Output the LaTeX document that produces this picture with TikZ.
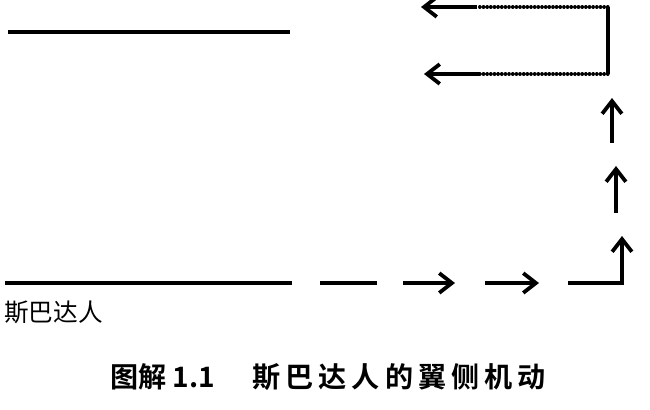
\documentclass[tikz,border=0pt]{standalone}
\usepackage{fontspec}
\newfontfamily\cjk{Noto Sans CJK SC}
\newfontfamily\cjkbold{Noto Sans CJK SC Bold}
\newfontfamily\cjkboldwide{Noto Sans CJK SC Bold}[LetterSpace=18]
\usetikzlibrary{arrows.meta, positioning}

\begin{document}
\begin{tikzpicture}[x=0.025cm,y=-0.025cm,>={Straight Barb[length=9pt,width=14pt,line width=2.7pt]},
        line/.style={line width=2.3pt},
        move/.style={line width=2.3pt,->},
        dotmove/.style={line width=2.3pt,line cap=round,dash pattern=on 0.3pt off 2.3pt}]
    \useasboundingbox (0,0) rectangle (650,409);

      % the two lines
      \coordinate (top_l) at (8,32);
      \coordinate (top_r) at (290,32);
      \coordinate (bot_l) at (5,283);
      \coordinate (bot_r) at (292,283);
      \draw[line] (top_l) -- (top_r);
      \draw[line] (bot_l) -- (bot_r);

      % the wing moving forward
      \coordinate (d_1) at (320,283);
      \coordinate (d_2) at (377,283);
      \coordinate (d_3) at (403,283);
      \coordinate (d_4) at (455,283);
      \coordinate (d_5) at (485,283);
      \coordinate (d_6) at (539,283);
      \coordinate (c_0) at (568,283);
      \coordinate (c_1) at (622,283);
      \coordinate (c_2) at (622,236);
      \draw[line] (d_1) -- (d_2);
      \draw[move] (d_3) -- (d_4);
      \draw[move] (d_5) -- (d_6);
      \draw[move] (c_0) -- (c_1) -- (c_2);

      % the wing turning up
      \coordinate (u_1) at (616,213);
      \coordinate (u_2) at (616,166);
      \coordinate (u_3) at (612,143);
      \coordinate (u_4) at (612,98);
      \draw[move] (u_1) -- (u_2);
      \draw[move] (u_3) -- (u_4);

      % the wing closing in
      \coordinate (w_0) at (608,74);
      \coordinate (w_1) at (608,7);
      \coordinate (a_1) at (477,7);
      \coordinate (a_2) at (421,7);
      \coordinate (b_1) at (480,74);
      \coordinate (b_2) at (424,74);
      \draw[line] (w_0) -- (w_1);
      \draw[dotmove] (w_1) -- (a_1);
      \draw[dotmove] (w_0) -- (b_1);
      \draw[move] (a_1) -- (a_2);
      \draw[move] (b_1) -- (b_2);

      \node[anchor=west,inner sep=0pt,font=\cjk\fontsize{17.5pt}{20pt}\selectfont] (sparta) at (4,312) {斯巴达人};
      \node[anchor=west,inner sep=0pt,font=\cjkbold\fontsize{20pt}{24pt}\selectfont] (fig_no) at (110,377) {图解 1.1};
      \node[anchor=west,inner sep=0pt,font=\cjkboldwide\fontsize{20pt}{24pt}\selectfont] (fig_title) at (252,377) {斯巴达人的翼侧机动};
    \end{tikzpicture}
\end{document}
